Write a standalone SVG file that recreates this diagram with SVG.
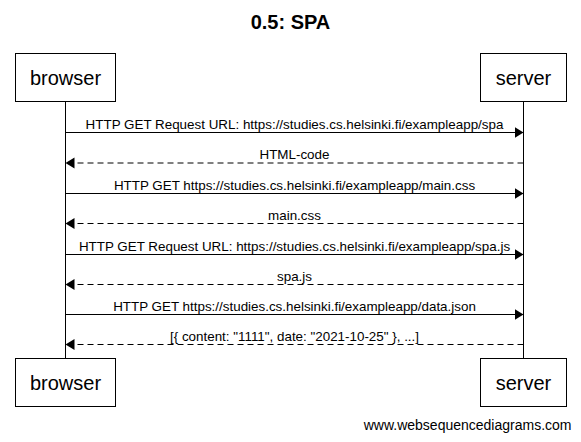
<svg xmlns="http://www.w3.org/2000/svg" width="581" height="442" viewBox="0 0 581 442">
<style>
text{font-family:"Liberation Sans",Arial,sans-serif;fill:#000}
.title{font-size:20px;font-weight:bold;text-anchor:middle}
.part{font-size:20px;text-anchor:middle}
.msg{font-size:13.4px;text-anchor:middle}
.wm{font-size:14px;text-anchor:end}
.box{fill:#fff;stroke:#000;stroke-width:1}
.life{stroke:#000;stroke-width:1;fill:none}
.solid{stroke:#000;stroke-width:1;fill:none}
.dash{stroke:#000;stroke-width:1;fill:none;stroke-dasharray:6,4}
</style>
<defs>
<marker id="ah" markerWidth="10" markerHeight="12" refX="9" refY="5.5" orient="auto" markerUnits="userSpaceOnUse">
<path d="M0,0 L9,5.5 L0,11 Z" fill="#000"/>
</marker>
</defs>
<rect width="581" height="442" fill="#fff"/>
<text class="title" x="290.5" y="29">0.5: SPA</text>
<g id="lifelines">
<line class="life" x1="65.5" y1="101.5" x2="65.5" y2="358.5"/>
<line class="life" x1="523.5" y1="101.5" x2="523.5" y2="358.5"/>
</g>
<g id="browser">
<rect class="box" x="15.5" y="53.5" width="100" height="48"/>
<text class="part" x="65.5" y="84.5">browser</text>
</g>
<g id="server">
<rect class="box" x="480.5" y="53.5" width="86" height="48"/>
<text class="part" x="523.5" y="84.5">server</text>
</g>
<g id="browser-bottom">
<rect class="box" x="15.5" y="358.5" width="100" height="48"/>
<text class="part" x="65.5" y="389.5">browser</text>
</g>
<g id="server-bottom">
<rect class="box" x="480.5" y="358.5" width="86" height="48"/>
<text class="part" x="523.5" y="389.5">server</text>
</g>
<g id="connectors">
<line class="solid" x1="65.5" y1="132.5" x2="523.5" y2="132.5" marker-end="url(#ah)"/>
<text class="msg" x="294.5" y="128.5">HTTP GET Request URL: https://studies.cs.helsinki.fi/exampleapp/spa</text>
<line class="dash" x1="523.5" y1="163" x2="65.5" y2="163" marker-end="url(#ah)"/>
<text class="msg" x="294.5" y="159">HTML-code</text>
<line class="solid" x1="65.5" y1="193.5" x2="523.5" y2="193.5" marker-end="url(#ah)"/>
<text class="msg" x="294.5" y="189.5">HTTP GET https://studies.cs.helsinki.fi/exampleapp/main.css</text>
<line class="dash" x1="523.5" y1="223.5" x2="65.5" y2="223.5" marker-end="url(#ah)"/>
<text class="msg" x="294.5" y="219.5">main.css</text>
<line class="solid" x1="65.5" y1="254.5" x2="523.5" y2="254.5" marker-end="url(#ah)"/>
<text class="msg" x="294.5" y="250.5">HTTP GET Request URL: https://studies.cs.helsinki.fi/exampleapp/spa.js</text>
<line class="dash" x1="523.5" y1="284.5" x2="65.5" y2="284.5" marker-end="url(#ah)"/>
<text class="msg" x="294.5" y="280.5">spa.js</text>
<line class="solid" x1="65.5" y1="314.5" x2="523.5" y2="314.5" marker-end="url(#ah)"/>
<text class="msg" x="294.5" y="310.5">HTTP GET https://studies.cs.helsinki.fi/exampleapp/data.json</text>
<line class="dash" x1="523.5" y1="344.5" x2="65.5" y2="344.5" marker-end="url(#ah)"/>
<text class="msg" x="294.5" y="340.5">[{ content: "1111", date: "2021-10-25" }, ...]</text>
</g>
<text class="wm" x="571.5" y="430">www.websequencediagrams.com</text>
</svg>
